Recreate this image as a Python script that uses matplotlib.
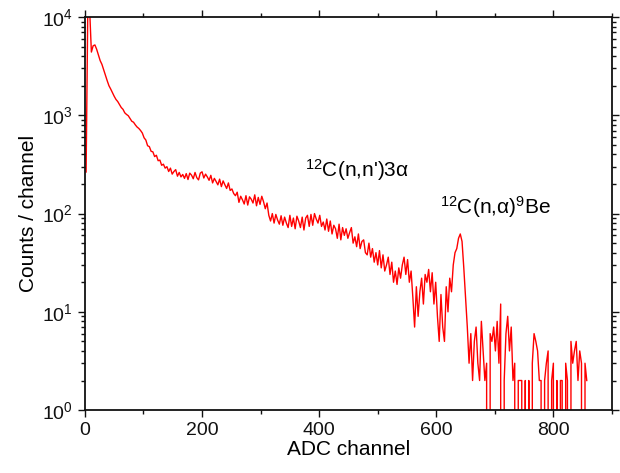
import numpy as np
import matplotlib
matplotlib.use("Agg")
import matplotlib.pyplot as plt
from matplotlib.ticker import LogLocator, MultipleLocator, NullFormatter

plt.rcParams["font.family"] = ["Liberation Sans", "DejaVu Sans"]
plt.rcParams["mathtext.fontset"] = "custom"
plt.rcParams["mathtext.rm"] = "Liberation Sans"
plt.rcParams["mathtext.it"] = "Liberation Sans:italic"

# counts, every 3rd ADC channel starting at channel 2
counts = [
    # 2 - 143
    265, 14000, 12000, 4400, 5100, 5200, 4700, 4100, 3600, 3300,
    2900, 2550, 2250, 2000, 1850, 1700, 1560, 1450, 1380, 1290,
    1200, 1150, 1060, 1020, 990, 930, 870, 850, 800, 760,
    735, 700, 660, 590, 560, 490, 480, 430, 425, 380,
    392, 345, 350, 310, 318, 290, 300, 268,
    # 146 - 653
    290, 252, 268, 280, 240, 262, 236, 250, 228, 255,
    222, 258, 246, 226, 262, 232, 220, 258, 266, 230,
    252, 236, 218, 245, 205, 228, 212, 196, 224, 188,
    215, 196, 180, 205, 172, 178, 160, 152, 165, 130,
    150, 138, 125, 152, 122, 148, 140, 128, 155, 120,
    146, 124, 150, 132, 112, 128, 96, 84, 100, 80,
    98, 86, 78, 95, 76, 92, 80, 72, 96, 74,
    90, 70, 94, 84, 72, 92, 68, 90, 96, 74,
    98, 76, 100, 88, 80, 96, 74, 82, 68, 88,
    66, 84, 62, 76, 70, 56, 78, 54, 72, 60,
    70, 56, 64, 72, 50, 58, 46, 62, 44, 52,
    54, 40, 38, 50, 36, 44, 32, 40, 30, 42,
    28, 38, 26, 30, 36, 24, 32, 20, 26, 19,
    28, 22, 30, 36, 24, 34, 20, 26, 14, 7,
    18, 9, 16, 22, 12, 24, 20, 27, 16, 25,
    12, 20, 9, 5, 15, 7, 5, 18, 10, 22,
    16, 30, 40, 44, 56, 62, 52, 28, 14, 7,
    # 656 - 857
    3, 6, 2, 5, 7, 3, 2, 8, 4, 2, 3, 0,
    6, 5, 7, 4, 8, 3, 12, 0, 2, 6,
    9, 4, 7, 2, 3, 0, 2, 2, 2, 0,
    2, 0, 2, 0, 3, 6, 5, 4, 2, 2,
    0, 2, 3, 4, 0, 2, 3, 0, 2, 0,
    2, 2, 0, 3, 2, 0, 5, 3, 4, 5,
    2, 4, 3, 0, 3, 2,
]
channels = np.arange(2, 2 + 3 * len(counts), 3)

fig = plt.figure(figsize=(6.2, 4.73), dpi=100, facecolor="white")
ax = fig.add_axes([0.137, 0.133, 0.850, 0.831])

ax.plot(channels, counts, color="#ff0000", linewidth=1.0)

ax.set_yscale("log", nonpositive="clip")
ax.set_xlim(0, 900)
ax.set_ylim(1, 1e4)

ax.xaxis.set_major_locator(MultipleLocator(200))
ax.xaxis.set_minor_locator(MultipleLocator(100))
ax.yaxis.set_major_locator(LogLocator(base=10, numticks=10))
ax.yaxis.set_minor_locator(LogLocator(base=10, subs=np.arange(2, 10), numticks=20))
ax.yaxis.set_minor_formatter(NullFormatter())

ax.tick_params(which="both", direction="out", top=True, right=True,
               labelsize=14, colors="#111111", width=1)
ax.tick_params(which="major", length=5)
ax.tick_params(which="minor", length=3)
for sp in ax.spines.values():
    sp.set_linewidth(1.3)
    sp.set_color("#111111")

ax.set_xlabel("ADC channel", fontsize=15, labelpad=1)
ax.set_ylabel("Counts / channel", fontsize=15, labelpad=3)

ax.text(375, 277, r"$^{12}$C(n,n')3α", fontsize=15, va="center", ha="left")
ax.text(606, 117, r"$^{12}$C(n,α)$^{9}$Be", fontsize=15, va="center", ha="left")

fig.savefig("out.png", dpi=100, facecolor="white")
